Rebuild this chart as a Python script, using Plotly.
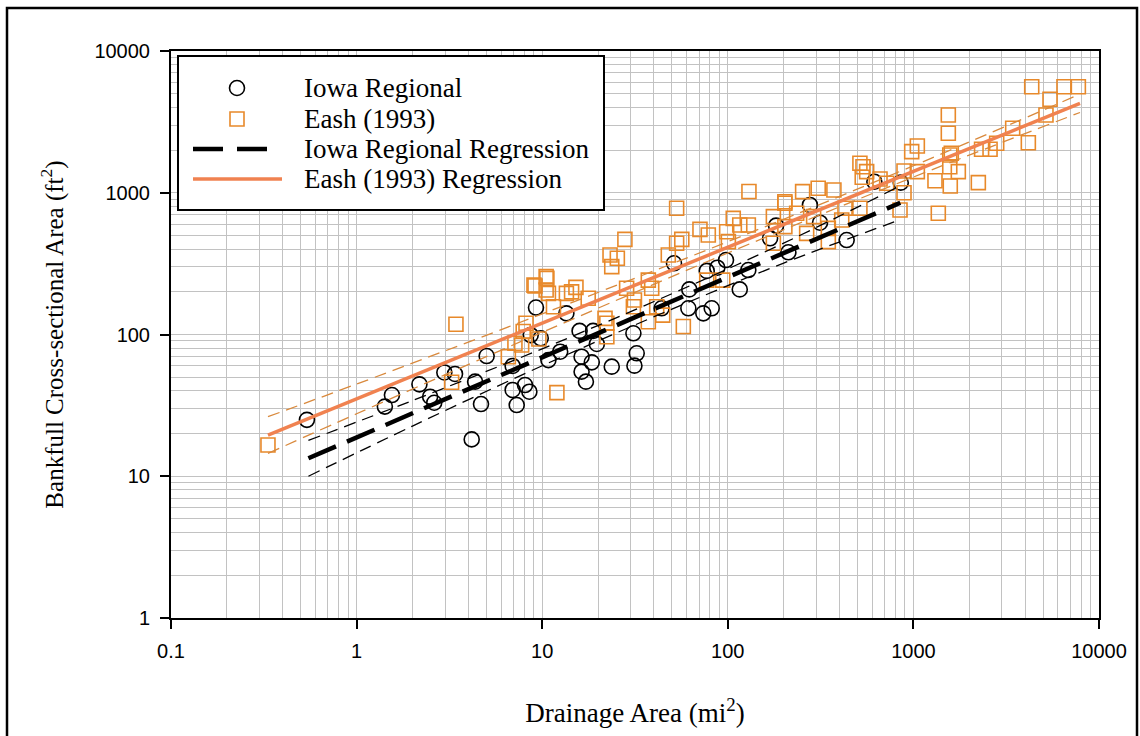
import plotly.graph_objects as go

# ---------------- data ----------------
iowa_x = [0.54, 1.55, 1.42, 2.18, 2.49, 2.62, 2.97, 3.39, 4.17, 4.35,
          4.68, 5.02, 6.93, 6.93, 7.29, 8.08, 8.53, 8.67, 9.26, 9.82,
          10.8, 12.5, 13.5, 15.9, 18.8, 19.7, 16.3, 18.5, 16.3, 17.2,
          23.7, 31.0, 32.3, 31.4, 44.0, 51.3, 62.0, 61.3, 73.8, 81.9,
          77.0, 87.8, 97.8, 116, 129, 169, 182, 212, 277, 314,
          437, 616, 855]
iowa_y = [25, 37.4, 31, 44.5, 36.4, 33, 54, 52.7, 18.2, 46.5,
          32.3, 70.5, 60, 40.6, 31.8, 44, 39.5, 99, 155, 94,
          66, 75.6, 141, 106, 106, 85.7, 69.7, 63.6, 54.7, 46.5,
          59.3, 102, 73.7, 60.3, 153, 318, 208, 153, 141, 153,
          281, 296, 335, 208, 285, 477, 586, 380, 820, 615,
          464, 1197, 1178]

eash_x = [0.333, 3.43, 3.25, 9.03, 10.5, 10.5, 8.18, 7.75, 6.57, 9.6, 7.13, 7.9, 12.0,
          10.6, 9.15, 10.8, 13.5, 15.2, 14.4, 17.7, 11.5,
          23.2, 25.4, 23.7, 27.9, 22.3, 21.8, 22.3,
          31, 31.4, 28.5, 37.3, 38.9, 41.4, 44.6, 37.3,
          53, 56.5, 53, 47.8, 57.6, 70.8, 78.5, 98.6, 100.7, 77, 93.9,
          107, 116, 129, 130, 176, 176, 203, 203, 235, 203,
          253, 307, 373, 266, 348, 348, 411, 428, 515, 290,
          515, 535, 560, 530, 661, 718, 847, 890, 890,
          979, 1050, 1050, 1307, 1362, 1542, 1542, 1570, 1600, 1570, 1746, 1580,
          2238, 2330, 2588, 2810, 3427, 4162,
          4340, 5445, 6475, 7740, 5180]
eash_y = [16.6, 118, 46, 223, 256, 206, 120, 84.3, 69.7, 93, 86.7, 105, 38.9,
          249, 220, 195, 195, 215, 200, 180, 157,
          364, 345, 301, 469, 120, 130, 96.5,
          157, 175, 212, 242, 212, 157, 137, 123,
          777, 469, 440, 364, 114, 552, 503, 531, 452, 242, 242,
          660, 592, 592, 1020, 678, 440, 577, 843, 716, 865,
          1018, 1075, 1046, 517, 561, 452, 643, 777, 777, 678,
          1613, 1527, 1409, 1285, 1250, 1166, 755, 1423, 1001,
          1950, 2137, 1409, 1216, 716, 3538, 2627, 1846, 1900, 1527, 1409, 1116,
          1178, 2025, 2025, 2233, 2850, 2255,
          5600, 4563, 5600, 5600, 3538]

# regression lines and confidence bands (read at a few x positions)
iowa_reg_x = [0.55, 850]
iowa_reg_y = [13.4, 850]
iowa_band_x = [0.55, 2, 10, 50, 200, 850]
iowa_band_hi = [17.9, 34.2, 79.3, 194, 441, 1120]
iowa_band_lo = [10.0, 22.6, 60.2, 151, 319, 645]

eash_reg_x = [0.333, 7900]
eash_reg_y = [19.5, 4276]
eash_band_x = [0.333, 1, 10, 100, 1000, 7900]
eash_band_hi = [26.3, 44.7, 139.7, 451.6, 1550, 4965]
eash_band_lo = [14.5, 27.6, 103.6, 375.9, 1290, 3683]

x_ticks = [0.1, 1, 10, 100, 1000, 10000]
x_ticktext = ["0.1", "1", "10", "100", "1000", "10000"]
y_ticks = [1, 10, 100, 1000, 10000]
y_ticktext = ["1", "10", "100", "1000", "10000"]

legend_labels = ["Iowa Regional", "Eash (1993)", "Iowa Regional Regression", "Eash (1993) Regression"]

# ---------------- styles ----------------
SQ_ORANGE = "#e8892a"
LINE_ORANGE = "#f08250"
BAND_ORANGE = "#d9893c"
GRID = "#c2c2c2"
SERIF = "Liberation Serif, Times New Roman, serif"
SANS = "Liberation Sans, Arial, sans-serif"

fig = go.Figure()

fig.add_trace(go.Scatter(
    x=iowa_x, y=iowa_y, mode="markers", name=legend_labels[0], showlegend=False,
    marker=dict(symbol="circle-open", size=15, color="black", line=dict(width=1.6, color="black"))))
fig.add_trace(go.Scatter(
    x=eash_x, y=eash_y, mode="markers", name=legend_labels[1], showlegend=False,
    marker=dict(symbol="square-open", size=14, color=SQ_ORANGE, line=dict(width=1.6, color=SQ_ORANGE))))

# confidence bands
for by in (iowa_band_hi, iowa_band_lo):
    fig.add_trace(go.Scatter(x=iowa_band_x, y=by, mode="lines", showlegend=False,
                             line=dict(color="black", width=1.3, dash="12px,7px", shape="spline"),
                             hoverinfo="skip"))
for by in (eash_band_hi, eash_band_lo):
    fig.add_trace(go.Scatter(x=eash_band_x, y=by, mode="lines", showlegend=False,
                             line=dict(color=BAND_ORANGE, width=1.3, dash="12px,7px", shape="spline"),
                             hoverinfo="skip"))

fig.add_trace(go.Scatter(
    x=iowa_reg_x, y=iowa_reg_y, mode="lines", name=legend_labels[2], showlegend=False,
    line=dict(color="black", width=4.5, dash="30px,12px")))
fig.add_trace(go.Scatter(
    x=eash_reg_x, y=eash_reg_y, mode="lines", name=legend_labels[3], showlegend=False,
    line=dict(color=LINE_ORANGE, width=3.5)))

# minor grid positions (2..9 within each decade)
x_minor = [m * d for d in x_ticks[:-1] for m in range(2, 10)]
y_minor = [m * d for d in y_ticks[:-1] for m in range(2, 10)]

axis_common = dict(
    type="log", showline=True, linewidth=2, linecolor="black", mirror=True,
    ticks="outside", ticklen=9, tickwidth=1.5, tickcolor="black",
    showgrid=True, gridcolor=GRID, gridwidth=1.3, zeroline=False,
    tickfont=dict(family=SANS, size=20, color="black"),
)

fig.update_xaxes(
    **axis_common, range=[-1, 4], tickmode="array", tickvals=x_ticks, ticktext=x_ticktext,
    ticklabelstandoff=5,
    minor=dict(tickmode="array", tickvals=x_minor, showgrid=True, gridcolor=GRID, gridwidth=1.3, ticks=""),
    title=dict(text="Drainage Area (mi<sup>2</sup>)", font=dict(family=SERIF, size=27, color="black"), standoff=42),
)
fig.update_yaxes(
    **axis_common, range=[0, 4], tickmode="array", tickvals=y_ticks, ticktext=y_ticktext,
    ticklabelstandoff=6,
    minor=dict(tickmode="array", tickvals=y_minor, showgrid=True, gridcolor=GRID, gridwidth=1.3, ticks=""),
    title=dict(text="Bankfull Cross-sectional Area (ft<sup>2</sup>)", font=dict(family=SERIF, size=25, color="black"), standoff=24),
)

L, R, T, B = 171, 41, 51, 118
W, H = 1140, 736
pw, ph = W - L - R, H - T - B

def px(xp):
    return (xp - L) / pw

def py(yp):
    return (H - B - yp) / ph

shapes = []
# outer frame of the figure
shapes.append(dict(type="rect", xref="paper", yref="paper",
                   x0=px(7), x1=px(1137), y0=py(745), y1=py(8),
                   line=dict(color="black", width=2.5), fillcolor="rgba(0,0,0,0)", layer="above"))

# ---- legend box (drawn manually for exact spacing) ----
LX0, LX1, LY0, LY1 = 178, 604, 56, 210
rows = [88, 119, 149, 179]
sym_cx = 237
shapes.append(dict(type="rect", xref="paper", yref="paper",
                   x0=px(LX0), x1=px(LX1), y0=py(LY1), y1=py(LY0),
                   line=dict(color="black", width=2), fillcolor="white", layer="above"))
# circle symbol
shapes.append(dict(type="circle", xref="paper", yref="paper",
                   x0=px(sym_cx - 7.5), x1=px(sym_cx + 7.5), y0=py(rows[0] + 7.5), y1=py(rows[0] - 7.5),
                   line=dict(color="black", width=1.6), fillcolor="rgba(0,0,0,0)", layer="above"))
# square symbol
shapes.append(dict(type="rect", xref="paper", yref="paper",
                   x0=px(sym_cx - 7), x1=px(sym_cx + 7), y0=py(rows[1] + 7), y1=py(rows[1] - 7),
                   line=dict(color=SQ_ORANGE, width=1.6), fillcolor="rgba(0,0,0,0)", layer="above"))
# dashed black regression sample
shapes.append(dict(type="line", xref="paper", yref="paper",
                   x0=px(193), x1=px(267), y0=py(rows[2]), y1=py(rows[2]),
                   line=dict(color="black", width=4.5, dash="30px,14px"), layer="above"))
# orange regression sample
shapes.append(dict(type="line", xref="paper", yref="paper",
                   x0=px(193), x1=px(282), y0=py(rows[3]), y1=py(rows[3]),
                   line=dict(color=LINE_ORANGE, width=3.5), layer="above"))

annotations = []
for lab, ry in zip(legend_labels, rows):
    annotations.append(dict(xref="paper", yref="paper", x=px(302), y=py(ry),
                            xanchor="left", yanchor="middle", showarrow=False, text=lab,
                            font=dict(family=SERIF, size=27, color="black")))

fig.update_layout(
    width=W, height=H, margin=dict(l=L, r=R, t=T, b=B, autoexpand=False),
    paper_bgcolor="white", plot_bgcolor="white",
    showlegend=False,
    shapes=shapes, annotations=annotations,
)

fig.write_html("out.html")
